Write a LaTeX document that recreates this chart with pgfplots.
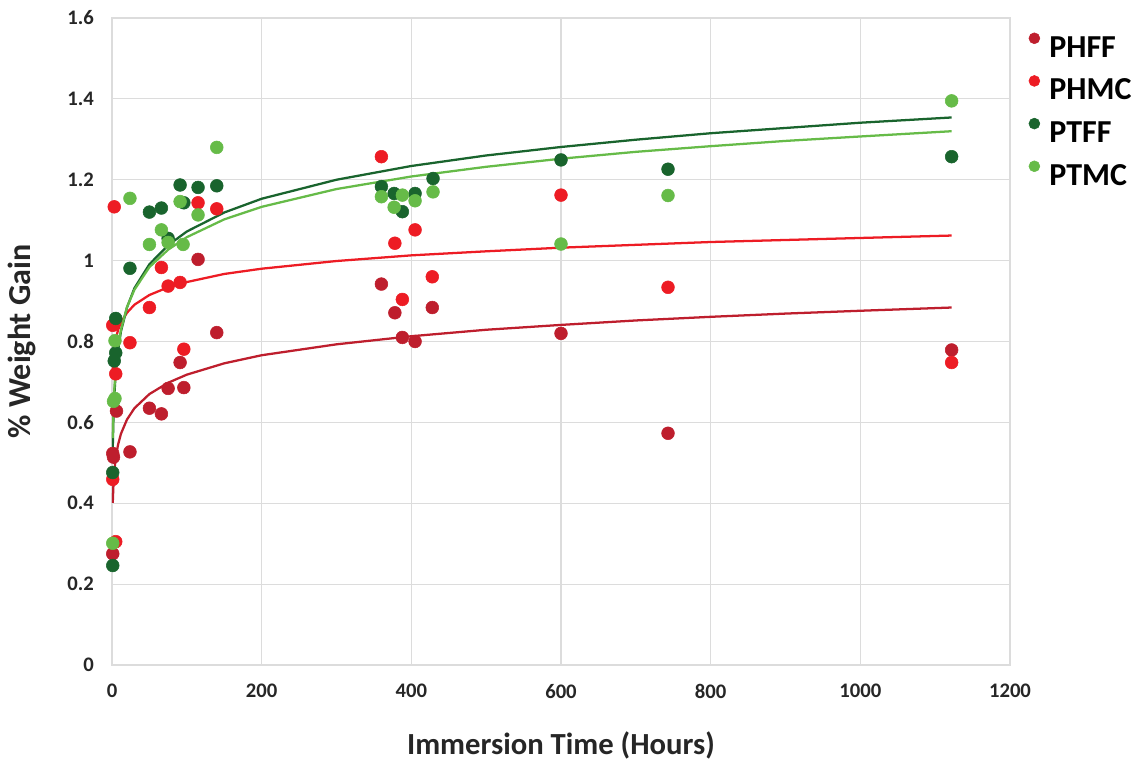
\documentclass[border=0pt]{standalone}
\usepackage{pgfplots}
\pgfplotsset{compat=1.18}
\usepackage{fontspec}
\setmainfont{Carlito}
\definecolor{phff}{RGB}{190,30,45}
\definecolor{phmc}{RGB}{237,28,36}
\definecolor{ptff}{RGB}{25,100,45}
\definecolor{ptmc}{RGB}{102,187,72}
\definecolor{gridc}{RGB}{220,220,220}

\begin{document}
\begin{tikzpicture}
\path[use as bounding box] (0pt,0pt) rectangle (853.5pt,571.5pt);
\begin{axis}[
  at={(84pt,72.75pt)}, anchor=south west,
  scale only axis,
  width=673.5pt, height=485.25pt,
  xmin=0, xmax=1200, ymin=0, ymax=1.6,
  xtick={0,200,...,1200},
  ytick={0,0.2,0.4,0.6,0.8,1,1.2,1.4,1.6},
  /pgf/number format/assume math mode=true,
  /pgf/number format/1000 sep={},
  tick label style={font=\fontsize{15.5}{18}\selectfont\bfseries, text=black!85},
  major tick length=0pt,
  grid=major,
  major grid style={gridc, line width=0.8pt},
  axis line style={gridc, line width=0.8pt},
  xticklabel style={yshift=-11pt},
  yticklabel style={xshift=-10pt},
  xlabel={\fontsize{23}{27}\selectfont\bfseries Immersion Time (Hours)},
  ylabel={\fontsize{24}{28}\selectfont\bfseries \% Weight Gain},
  xlabel style={at={(axis description cs:0.5,-0.124)}, anchor=center, text=black!85},
  ylabel style={at={(axis description cs:-0.100,0.5)}, anchor=center, text=black!85},
  legend style={at={(1.016,0.985)}, anchor=north west, draw=none, fill=none,
    font=\fontsize{24}{29}\selectfont\bfseries, row sep=8pt,
    nodes={text height=18pt, text depth=2pt},
    legend cell align=left},
  legend image code/.code={\fill[#1] (0.22cm,0.22cm) circle (4.1pt);
    \path (0.22cm,0.22cm) ++(9pt,0pt);},
]
% trend lines
\addplot[phff, line width=1.7pt, forget plot] coordinates {
 (1,0.401)(2,0.449)(3,0.477)(5,0.512)(8,0.544)(12,0.572)(20,0.607)(30,0.635)
 (50,0.670)(75,0.698)(100,0.718)(150,0.746)(200,0.766)(300,0.793)(400,0.813)
 (500,0.829)(600,0.841)(700,0.852)(800,0.861)(900,0.869)(1000,0.876)(1122,0.884)};
\addplot[phmc, line width=1.7pt, forget plot] coordinates {
 (1,0.730)(2,0.763)(3,0.782)(5,0.806)(8,0.828)(12,0.847)(20,0.871)(30,0.891)
 (50,0.915)(75,0.934)(100,0.947)(150,0.967)(200,0.980)(300,0.999)(400,1.013)
 (500,1.023)(600,1.032)(700,1.039)(800,1.046)(900,1.051)(1000,1.056)(1122,1.062)};
\addplot[ptff, line width=1.7pt, forget plot] coordinates {
 (1,0.535)(2,0.616)(3,0.663)(5,0.723)(8,0.777)(12,0.825)(20,0.884)(30,0.932)
 (50,0.991)(75,1.038)(100,1.072)(150,1.119)(200,1.153)(300,1.200)(400,1.234)
 (500,1.260)(600,1.281)(700,1.299)(800,1.315)(900,1.328)(1000,1.341)(1122,1.354)};
\addplot[ptmc, line width=1.7pt, forget plot] coordinates {
 (1,0.561)(2,0.636)(3,0.680)(5,0.735)(8,0.786)(12,0.829)(20,0.885)(30,0.928)
 (50,0.984)(75,1.027)(100,1.058)(150,1.102)(200,1.133)(300,1.177)(400,1.208)
 (500,1.232)(600,1.252)(700,1.269)(800,1.283)(900,1.296)(1000,1.307)(1122,1.320)};
% data points
\addplot[only marks, mark=*, mark size=4.8pt, phff, mark options={draw=phff, fill=phff}] coordinates {
 (1,0.275)(1,0.523)(2,0.514)(6,0.628)(24,0.527)(50,0.635)(66,0.621)(75,0.684)
 (91,0.748)(96,0.686)(115,1.003)(140,0.822)(360,0.942)(378,0.871)(388,0.810)
 (405,0.800)(428,0.884)(600,0.820)(743,0.573)(1122,0.779)};
\addlegendentry{PHFF}
\addplot[only marks, mark=*, mark size=4.8pt, phmc, mark options={draw=phmc, fill=phmc}] coordinates {
 (3,1.133)(1,0.840)(1,0.459)(5,0.305)(5,0.720)(24,0.797)(50,0.884)(66,0.983)
 (75,0.937)(91,0.946)(96,0.781)(115,1.143)(140,1.128)(360,1.257)(378,1.043)
 (388,0.904)(405,1.076)(428,0.960)(600,1.162)(743,0.934)(1122,0.748)};
\addlegendentry{PHMC}
\addplot[only marks, mark=*, mark size=4.8pt, ptff, mark options={draw=ptff, fill=ptff}] coordinates {
 (1,0.246)(1,0.476)(3,0.752)(5,0.772)(5,0.857)(24,0.981)(50,1.120)(66,1.130)
 (75,1.055)(91,1.187)(96,1.143)(115,1.181)(140,1.185)(360,1.183)(377,1.166)
 (388,1.121)(405,1.166)(429,1.203)(600,1.249)(743,1.226)(1122,1.257)};
\addlegendentry{PTFF}
\addplot[only marks, mark=*, mark size=4.8pt, ptmc, mark options={draw=ptmc, fill=ptmc}] coordinates {
 (1,0.301)(2,0.652)(4,0.659)(4,0.802)(24,1.154)(50,1.040)(66,1.076)(75,1.045)
 (91,1.146)(95,1.040)(115,1.113)(140,1.280)(360,1.158)(377,1.132)(388,1.162)
 (405,1.148)(429,1.170)(600,1.041)(743,1.161)(1122,1.395)};
\addlegendentry{PTMC}
\end{axis}
\end{tikzpicture}
\end{document}
